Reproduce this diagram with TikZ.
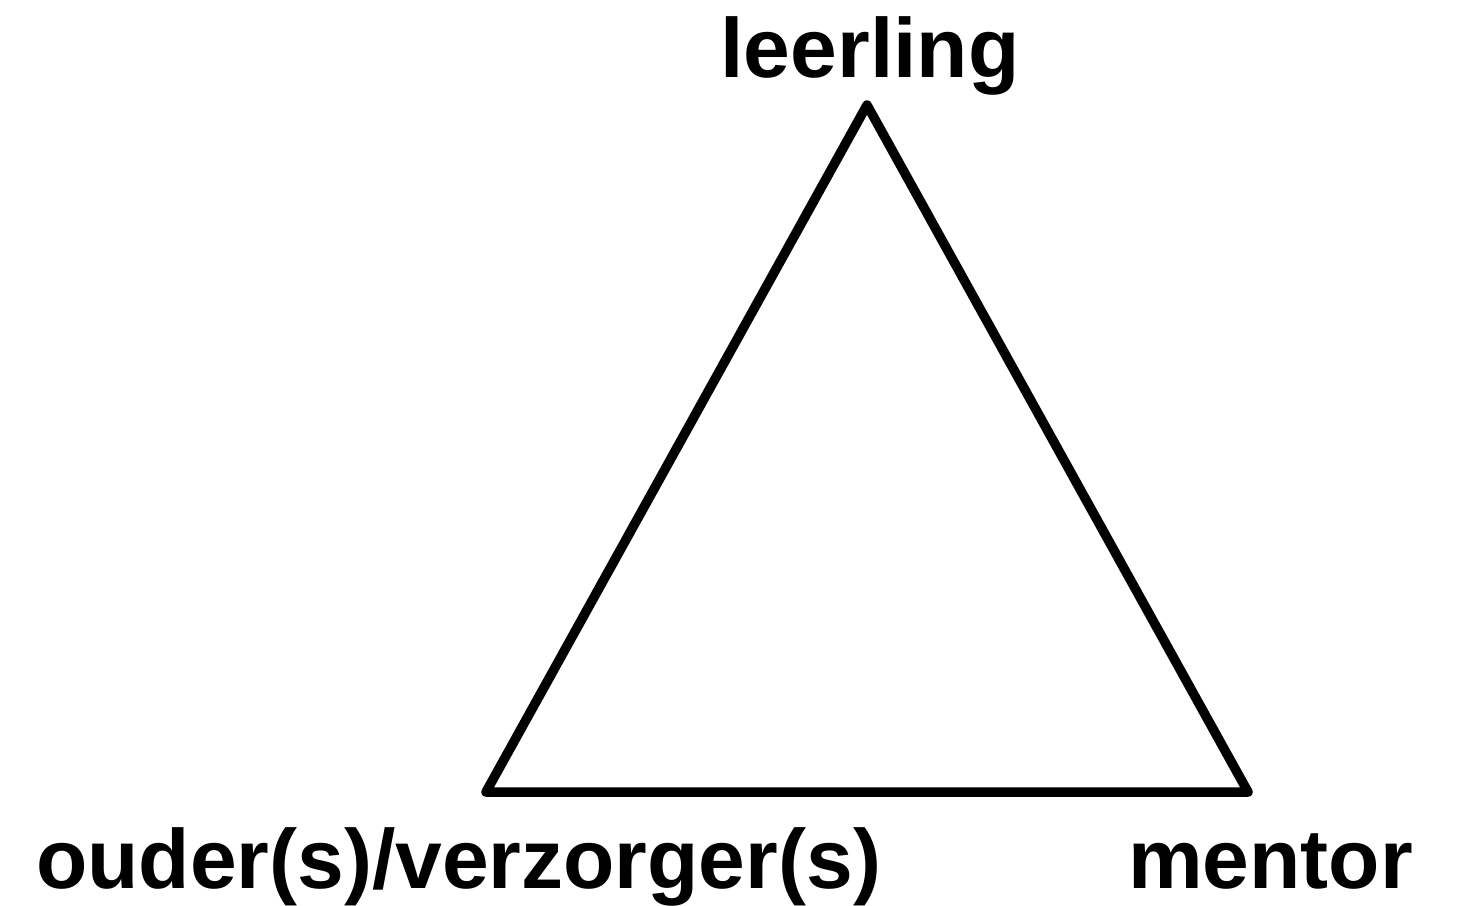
\documentclass[tikz,border=0pt]{standalone}
\usepackage{fontspec}
\setmainfont{Liberation Sans}
\begin{document}
\begin{tikzpicture}[x=1pt,y=-1pt,
  lbl/.style={inner sep=0pt,font=\fontsize{84}{92}\selectfont\bfseries},
  edge/.style={line width=9.5pt,line join=round,black}]
\useasboundingbox[fill=white] (0,0) rectangle (1458,905);
\coordinate (top) at (867,105);
\coordinate (bl) at (486,792);
\coordinate (br) at (1248,792);
\draw[edge] (top) -- (bl) -- (br) -- cycle;
\node[lbl,anchor=base] (leerling) at (870,77) {leerling};
\node[lbl,anchor=base west] (ouder) at (36,888) {ouder(s)/verzorger(s)};
\node[lbl,anchor=base west] (mentor) at (1128,888) {mentor};
\end{tikzpicture}
\end{document}
